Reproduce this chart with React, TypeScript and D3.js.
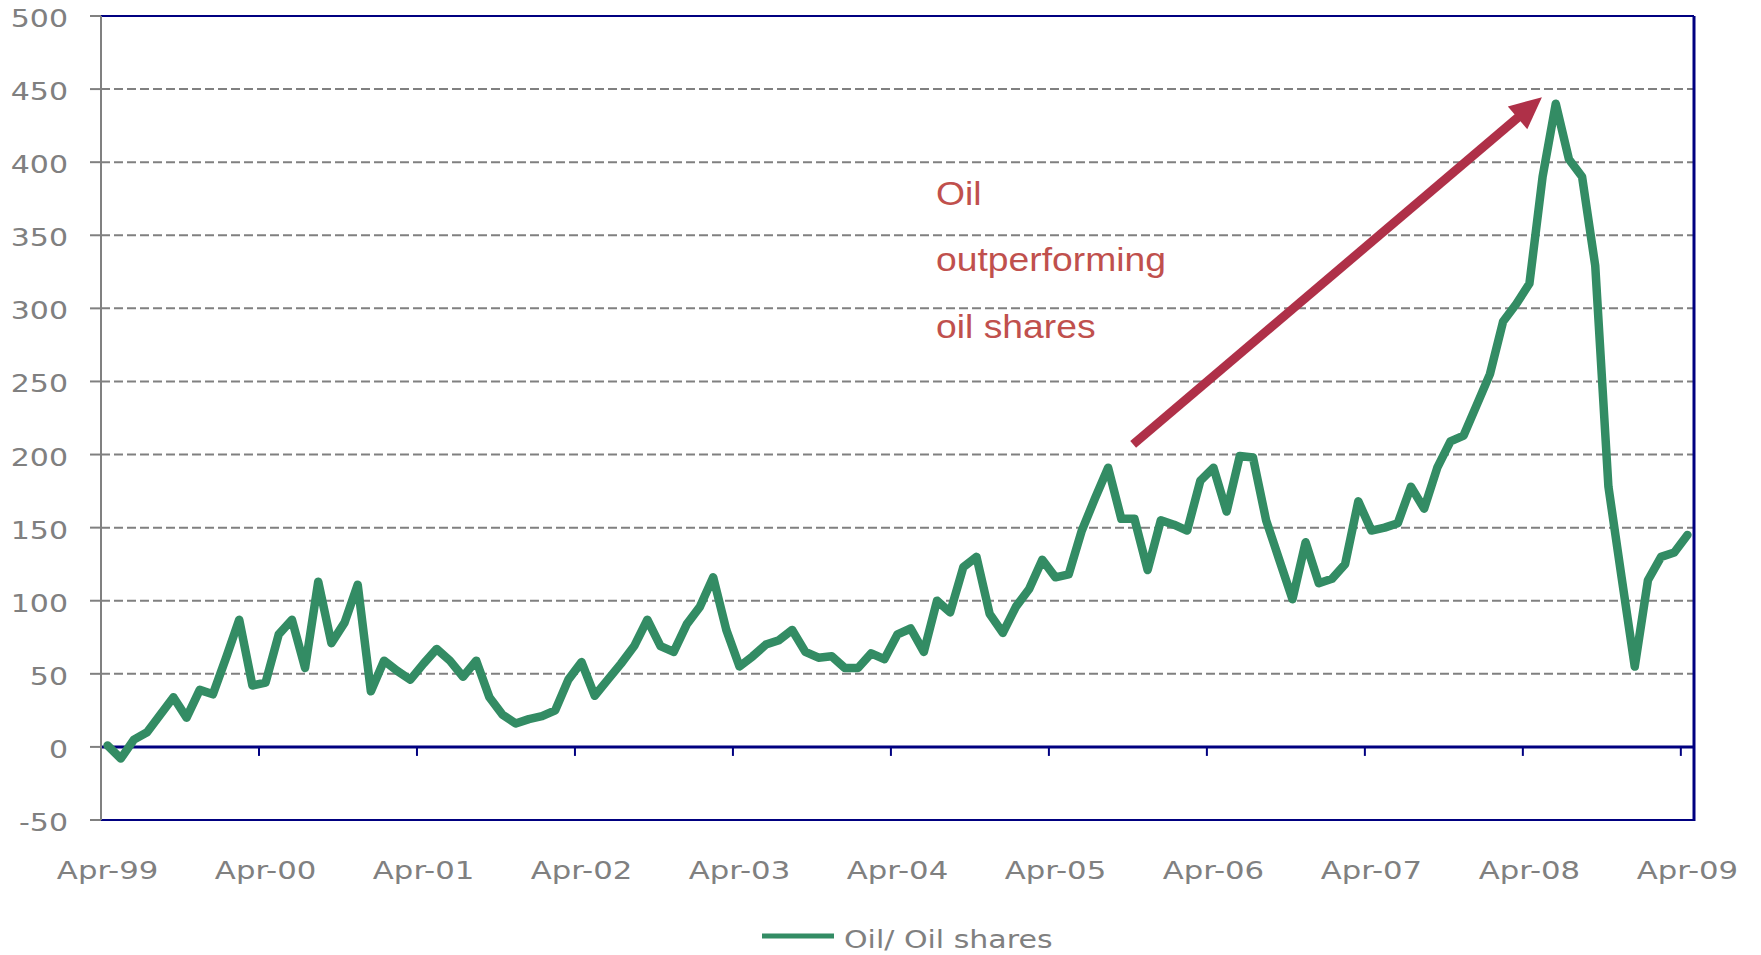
import * as d3 from "d3";

// monthly ratio Oil / Oil shares, Apr-99 .. Apr-09
const oilVsShares = [
  1, -8, 5, 10, 22, 34, 20, 39, 36, 61,
  87, 42, 44, 77, 87, 54, 113, 71, 85, 111,
  38, 59, 52, 46, 57, 67, 59, 48, 59, 34,
  22, 16, 19, 21, 25, 46, 58, 35, 46, 57,
  69, 87, 69, 65, 84, 96, 116, 80, 55, 62,
  70, 73, 80, 65, 61, 62, 54, 54, 64, 60,
  77, 81, 65, 100, 92, 123, 130, 91, 78, 96,
  108, 128, 116, 118, 148, 170, 191, 156, 156, 121,
  155, 152, 148, 182, 191, 161, 199, 198, 155, 128,
  101, 140, 112, 115, 125, 168, 148, 150, 153, 178,
  163, 191, 209, 213, 234, 255, 291, 303, 317, 390,
  440, 402, 390, 329, 178, 116, 55, 114, 130, 133, 145,
];

const xTickLabels = [
  "Apr-99", "Apr-00", "Apr-01", "Apr-02", "Apr-03", "Apr-04",
  "Apr-05", "Apr-06", "Apr-07", "Apr-08", "Apr-09",
];
const yTicks = [-50, 0, 50, 100, 150, 200, 250, 300, 350, 400, 450, 500];
const seriesName = "Oil/ Oil shares";
const noteLines = ["Oil", "outperforming", "oil shares"];
// arrow from / to, in [month index, value]
const arrowFrom = [78.4, 207];
const arrowTo = [109.45, 444.5];

const W = 1761;
const H = 955;
const left = 101, right = 1694, top = 16, bottom = 820;

const GRAY = "#808080";
const NAVY = "#000080";
const GREEN = "#338c64";
const RED_TEXT = "#c0504d";
const RED_ARROW = "#af3048";
const axisFont = "'DejaVu Sans', Verdana, sans-serif";

export default function App() {
  const x = d3.scaleLinear().domain([0, oilVsShares.length]).range([left, right]);
  const y = d3.scaleLinear().domain([-50, 500]).range([bottom, top]);

  const line = d3
    .line<number>()
    .x((_, i) => x(i + 0.5))
    .y((d) => y(d));

  // arrow geometry
  const ax0 = x(arrowFrom[0]), ay0 = y(arrowFrom[1]);
  const ax1 = x(arrowTo[0]), ay1 = y(arrowTo[1]);
  const len = Math.hypot(ax1 - ax0, ay1 - ay0);
  const ux = (ax1 - ax0) / len, uy = (ay1 - ay0) / len;
  const headLen = 32, headHalf = 15;
  const bx = ax1 - ux * headLen, by = ay1 - uy * headLen;
  const head = [
    [ax1, ay1],
    [bx - uy * headHalf, by + ux * headHalf],
    [bx + uy * headHalf, by - ux * headHalf],
  ];

  const sx = 1.23;

  return (
    <svg
      width={W}
      height={H}
      style={{ position: "absolute", left: 0, top: 0, display: "block", background: "#fff" }}
    >
      <rect width={W} height={H} fill="#fff" />

      {/* gridlines */}
      {yTicks
        .filter((v) => v > 0 && v < 500)
        .map((v) => (
          <line
            key={"g" + v}
            x1={left}
            x2={right}
            y1={y(v)}
            y2={y(v)}
            stroke={GRAY}
            strokeWidth={2}
            strokeDasharray="9,4"
          />
        ))}

      {/* frame */}
      <line x1={left} x2={right} y1={y(500)} y2={y(500)} stroke={NAVY} strokeWidth={2} />
      <line x1={left} x2={right + 1} y1={y(-50)} y2={y(-50)} stroke={NAVY} strokeWidth={2} />
      <line x1={right} x2={right} y1={y(500)} y2={y(-50) + 1} stroke={NAVY} strokeWidth={3} />

      {/* x axis at zero */}
      <line x1={left} x2={right} y1={y(0)} y2={y(0)} stroke={NAVY} strokeWidth={3} />
      {xTickLabels.map((lab, k) => (
        <line
          key={"xt" + lab}
          x1={x(k * 12)}
          x2={x(k * 12)}
          y1={y(0)}
          y2={y(0) + 9}
          stroke={NAVY}
          strokeWidth={2}
        />
      ))}
      {xTickLabels.map((lab, k) => (
        <text
          key={"xl" + lab}
          transform={`translate(${x(k * 12 + 0.5)},879) scale(${sx},1)`}
          textAnchor="middle"
          fontFamily={axisFont}
          fontSize={25}
          fill={GRAY}
        >
          {lab}
        </text>
      ))}

      {/* y axis */}
      <line x1={left} x2={left} y1={y(500)} y2={y(-50)} stroke={GRAY} strokeWidth={2} />
      {yTicks.map((v) => (
        <g key={"y" + v}>
          <line x1={left - 11} x2={left} y1={y(v)} y2={y(v)} stroke={GRAY} strokeWidth={2} />
          <text
            transform={`translate(68,${y(v) + 11}) scale(1.2,1)`}
            textAnchor="end"
            fontFamily={axisFont}
            fontSize={25}
            fill={GRAY}
          >
            {v}
          </text>
        </g>
      ))}

      {/* series */}
      <path
        d={line(oilVsShares) ?? ""}
        fill="none"
        stroke={GREEN}
        strokeWidth={8.5}
        strokeLinejoin="round"
        strokeLinecap="round"
      />

      {/* annotation */}
      <line x1={ax0} y1={ay0} x2={bx + ux * 2} y2={by + uy * 2} stroke={RED_ARROW} strokeWidth={9} />
      <polygon points={head.map((p) => p.join(",")).join(" ")} fill={RED_ARROW} />
      {noteLines.map((t, k) => (
        <text
          key={t}
          transform={`translate(936,${205 + k * 66.3}) scale(1.13,1)`}
          fontFamily="'Liberation Sans', Arial, sans-serif"
          fontSize={33}
          fill={RED_TEXT}
        >
          {t}
        </text>
      ))}

      {/* legend */}
      <line x1={762} x2={834} y1={936} y2={936} stroke={GREEN} strokeWidth={5} />
      <text
        transform={`translate(844,948) scale(1.2,1)`}
        fontFamily={axisFont}
        fontSize={25}
        fill={GRAY}
      >
        {seriesName}
      </text>
    </svg>
  );
}
